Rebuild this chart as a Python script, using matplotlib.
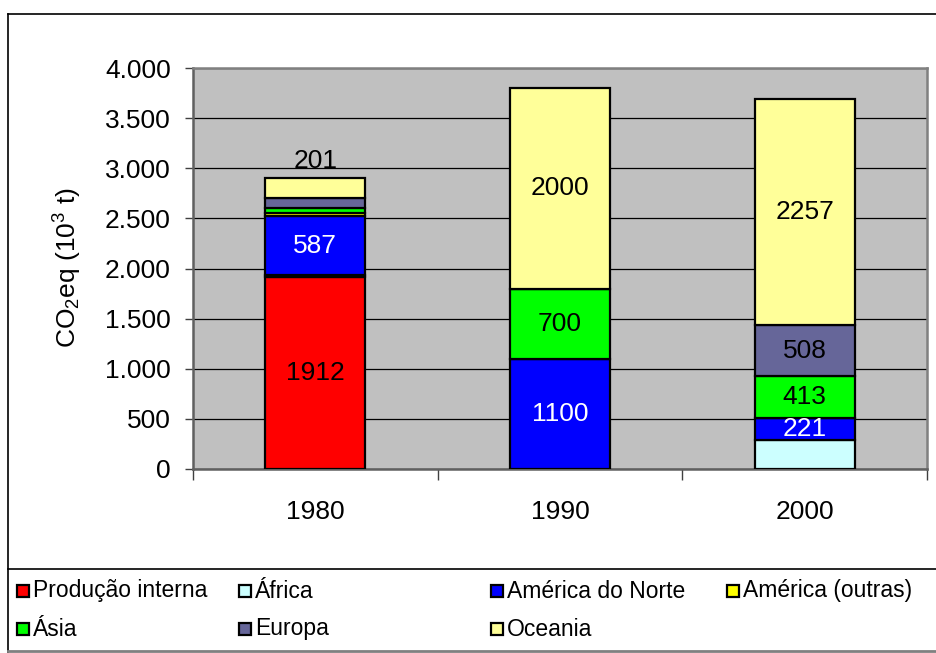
import numpy as np
import matplotlib.pyplot as plt
from matplotlib.patches import Rectangle
from matplotlib.ticker import FuncFormatter, FixedLocator

plt.rcParams['font.family'] = ['Liberation Sans', 'DejaVu Sans']
plt.rcParams['mathtext.default'] = 'regular'

# Emissions per origin, 10^3 t CO2eq
years = ['1980', '1990', '2000']
series = ['Produção interna', 'África', 'América do Norte', 'América (outras)',
          'Ásia', 'Europa', 'Oceania']
producao_interna = [1912, 0, 0]
africa = [20, 0, 290]
america_norte = [587, 1100, 221]
america_outras = [30, 0, 0]
asia = [50, 700, 413]
europa = [100, 0, 508]
oceania = [201, 2000, 2257]

colors = ['#FF0000', '#CCFFFF', '#0000FF', '#FFFF00', '#00FF00', '#666699', '#FFFF99']
values = [producao_interna, africa, america_norte, america_outras, asia, europa, oceania]

# labels written inside the segments (series index, year index, text colour)
inside_labels = [(0, 0, 'black'), (2, 0, 'white'),
                 (2, 1, 'white'), (4, 1, 'black'), (6, 1, 'black'),
                 (2, 2, 'white'), (4, 2, 'black'), (5, 2, 'black'), (6, 2, 'black')]

fig = plt.figure(figsize=(9.36, 6.53), dpi=100)
ax = fig.add_axes([193 / 936, 1 - 469 / 653, 734 / 936, 401 / 653])
ax.set_facecolor('#C0C0C0')

x = np.arange(len(years))
bottom = np.zeros(len(years))
bottoms = []
for vals, c in zip(values, colors):
    vals = np.array(vals, dtype=float)
    ax.bar(x, vals, 0.41, bottom=bottom, color=c, edgecolor='black', linewidth=1.6, zorder=3)
    bottoms.append(bottom.copy())
    bottom += vals

for si, yi, tc in inside_labels:
    v = values[si][yi]
    ax.text(x[yi], bottoms[si][yi] + v / 2, str(v), ha='center', va='center',
            fontsize=19, color=tc, zorder=4)

# Oceania 1980 is too thin, its value sits above the bar
ax.text(x[0], bottom[0] + 50, str(oceania[0]), ha='center', va='bottom', fontsize=19, zorder=4)

ax.set_xlim(-0.5, 2.5)
ax.set_ylim(0, 4000)
ax.set_yticks(np.arange(0, 4001, 500))
ax.yaxis.set_major_formatter(FuncFormatter(lambda v, p: f'{int(v):,}'.replace(',', '.')))
ax.grid(axis='y', color='black', linewidth=0.9, zorder=1)
ax.set_axisbelow(True)

ax.set_xticks(x)
ax.set_xticklabels(years)
ax.xaxis.set_minor_locator(FixedLocator([-0.5, 0.5, 1.5, 2.5]))
ax.tick_params(axis='x', which='major', length=0, pad=22, labelsize=19)
ax.tick_params(axis='x', which='minor', length=8, color='#404040', width=1)
ax.tick_params(axis='y', length=6, color='#404040', width=1, labelsize=19, pad=10)

for side in ['top', 'right', 'left', 'bottom']:
    ax.spines[side].set_color('#808080')
    ax.spines[side].set_linewidth(1.8)
ax.spines['left'].set_color('#606060')
ax.spines['bottom'].set_color('#606060')

fig.text(68 / 936, 1 - 268 / 653, 'CO$_2$eq (10$^3$ t)', rotation=90, ha='center', va='center',
         fontsize=19)

# outer frame and legend box
fig.add_artist(plt.Line2D([8 / 936, 1.0], [1 - 14 / 653] * 2, color='black', linewidth=1.2))
fig.add_artist(plt.Line2D([8 / 936, 8 / 936], [0, 1 - 14 / 653], color='black', linewidth=1.2))
fig.add_artist(plt.Line2D([8 / 936, 1.0], [1 - 569 / 653] * 2, color='black', linewidth=1.2))
fig.add_artist(plt.Line2D([8 / 936, 1.0], [1 - 651 / 653] * 2, color='#808080', linewidth=2))

legend_pos = [(17, 591), (239, 591), (491, 591), (727, 591),
              (17, 629), (239, 629), (491, 629)]
for (px, py), name, c in zip(legend_pos, series, colors):
    s = 12
    fig.add_artist(Rectangle((px / 936, 1 - (py + s / 2) / 653), s / 936, s / 653,
                             facecolor=c, edgecolor='black', linewidth=1.6,
                             transform=fig.transFigure))
    fig.text((px + 16) / 936, 1 - py / 653, name, ha='left', va='center', fontsize=16.5)

fig.savefig('out.png', dpi=100)
